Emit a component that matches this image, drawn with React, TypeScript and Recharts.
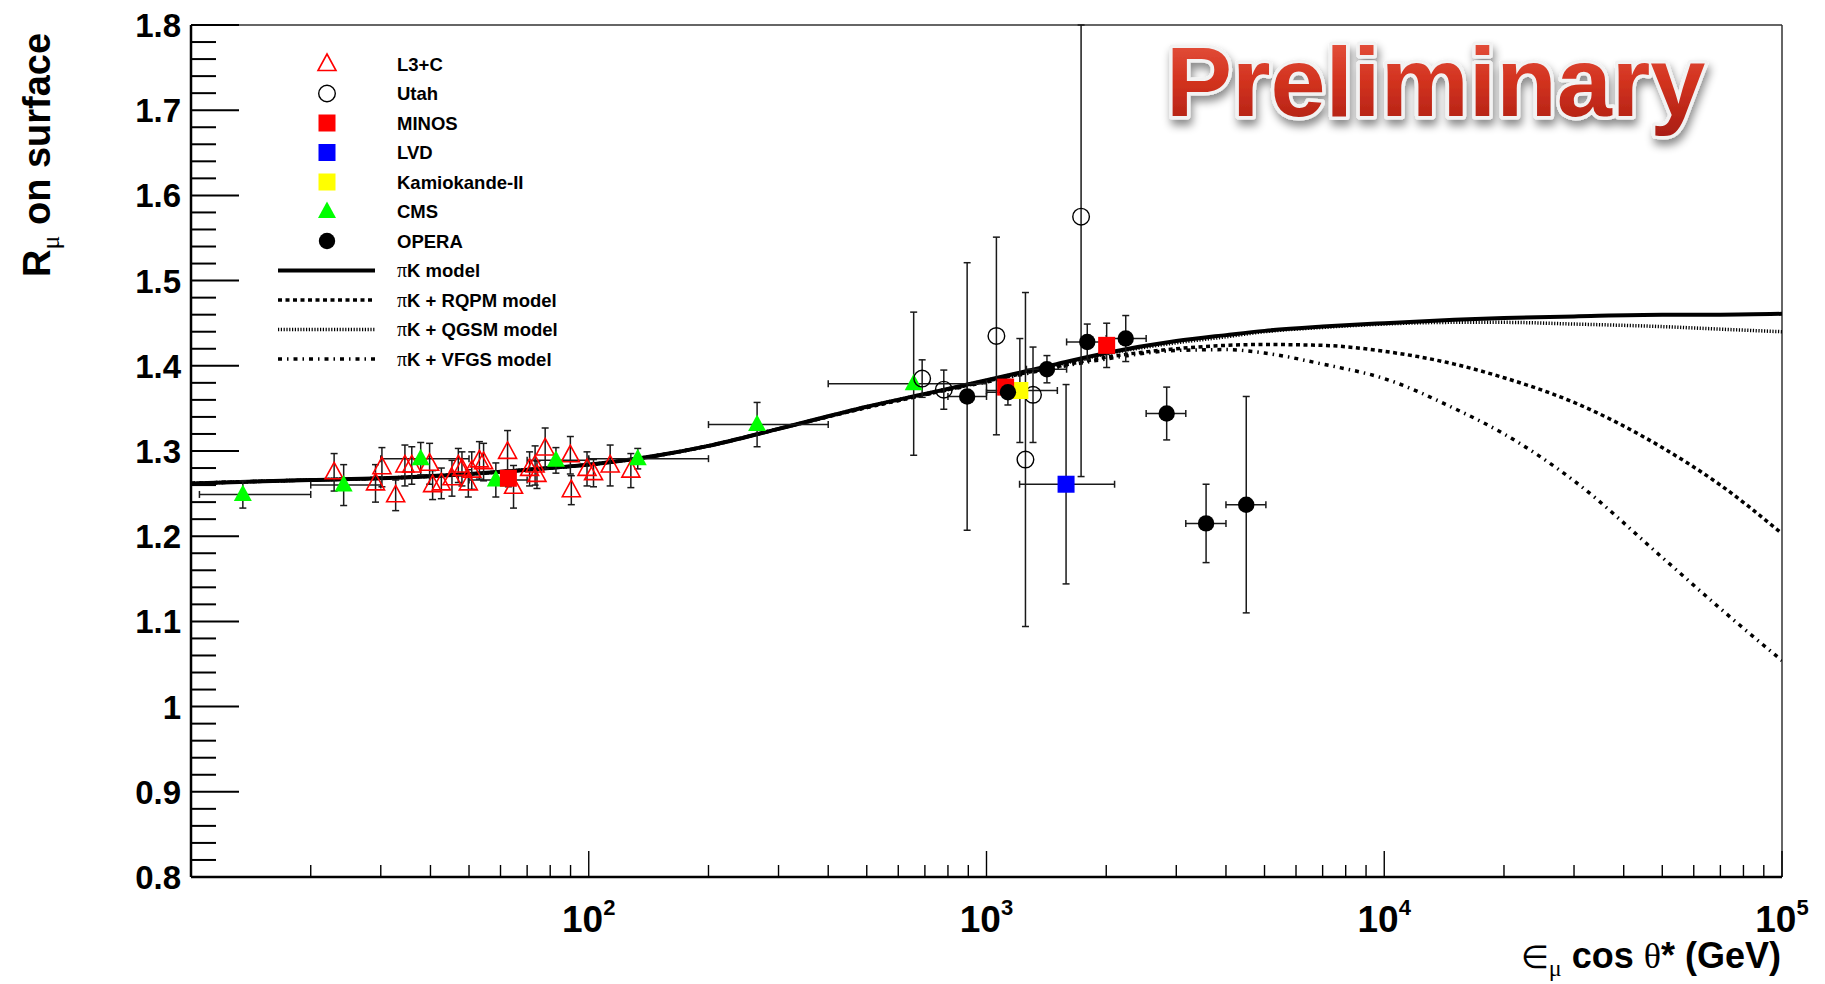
import React from 'react';
import { ComposedChart, XAxis, YAxis, Scatter, Line, ErrorBar, ReferenceLine } from 'recharts';

// ---- data ----
// L3+C
const L3C_E = [22.9, 29.1, 30.2, 32.7, 34.5, 35.9, 39.8, 40.5, 42.6, 45.3, 47.0, 48.0, 49.8, 50.8, 53.1, 54.4, 62.5, 64.7, 71.0, 73.3, 74.1, 77.7, 89.9, 90.4, 99.0, 102.8, 113.2, 127.6];
const L3C_R = [1.275, 1.262, 1.281, 1.248, 1.283, 1.283, 1.285, 1.26, 1.262, 1.268, 1.283, 1.279, 1.262, 1.277, 1.289, 1.287, 1.299, 1.258, 1.279, 1.283, 1.272, 1.303, 1.295, 1.254, 1.279, 1.274, 1.283, 1.277];
const L3C_ERR = [0.022, 0.022, 0.023, 0.018, 0.024, 0.022, 0.024, 0.017, 0.018, 0.021, 0.02, 0.02, 0.016, 0.022, 0.022, 0.022, 0.025, 0.025, 0.02, 0.023, 0.016, 0.024, 0.022, 0.017, 0.02, 0.016, 0.024, 0.02];

// Utah (last point's upper bar is cut by the frame at 1.8)
const UTAH_E = [689, 781, 1059, 1253, 1309, 1729];
const UTAH_R = [1.385, 1.372, 1.435, 1.29, 1.366, 1.575];
const UTAH_ERR = [0.022, 0.023, 0.116, 0.196, 0.056, 0.305];
const UTAH_ERR_UP = [0.022, 0.023, 0.116, 0.196, 0.056, 0.225];

// MINOS
const MINOS_E = [62.8, 1117, 2005];
const MINOS_R = [1.268, 1.375, 1.424];
const MINOS_ERR = [0.01, 0.008, 0.026];

// LVD
const LVD_E = [1585];
const LVD_R = [1.261];
const LVD_ERR = [0.117];
const LVD_LO = [1211];
const LVD_HI = [2099];

// Kamiokande-II
const KAM_E = [1213];
const KAM_R = [1.371];
const KAM_ERR = [0.061];
const KAM_LO = [1000];
const KAM_HI = [1507];

// CMS
const CMS_E = [13.5, 24.2, 37.8, 58.4, 82.7, 132.8, 265, 656];
const CMS_R = [1.249, 1.26, 1.291, 1.266, 1.289, 1.291, 1.331, 1.379];
const CMS_ERR = [0.016, 0.024, 0.019, 0.02, 0.015, 0.012, 0.026, 0.084];
const CMS_LO = [10.5, 20, 30, 50, 70, 100, 200, 400];
const CMS_HI = [20, 30, 50, 70, 100, 200, 400, 1000];

// OPERA
const OPERA_E = [894, 1132, 1419, 1792, 2239, 2838, 3565, 4498];
const OPERA_R = [1.364, 1.369, 1.396, 1.428, 1.432, 1.344, 1.215, 1.237];
const OPERA_ERR = [0.157, 0.015, 0.016, 0.021, 0.027, 0.031, 0.046, 0.127];
const OPERA_LO = [800, 1000, 1260, 1590, 2000, 2520, 3170, 4000];
const OPERA_HI = [1000, 1260, 1590, 2000, 2520, 3170, 4000, 5040];

// model curves
const MODEL_E = [10, 20, 30, 50, 70, 100, 150, 200, 300, 500, 700, 1000, 1500, 2000, 3000, 4000, 5000, 7000, 10000, 15000, 20000, 30000, 50000, 70000, 100000];
const PIK_R = [1.262, 1.266, 1.268, 1.273, 1.278, 1.284, 1.295, 1.306, 1.326, 1.352, 1.367, 1.383, 1.402, 1.415, 1.429, 1.436, 1.441, 1.446, 1.45, 1.454, 1.456, 1.458, 1.46, 1.46, 1.461];
const RQPM_R = [1.262, 1.266, 1.268, 1.273, 1.278, 1.284, 1.295, 1.306, 1.326, 1.351, 1.366, 1.382, 1.399, 1.41, 1.42, 1.424, 1.425, 1.424, 1.417, 1.402, 1.386, 1.357, 1.304, 1.26, 1.203];
const QGSM_R = [1.262, 1.266, 1.268, 1.273, 1.278, 1.284, 1.295, 1.306, 1.326, 1.352, 1.367, 1.383, 1.401, 1.414, 1.427, 1.434, 1.44, 1.445, 1.449, 1.451, 1.451, 1.449, 1.446, 1.443, 1.44];
const VFGS_R = [1.262, 1.266, 1.268, 1.273, 1.278, 1.284, 1.295, 1.306, 1.326, 1.351, 1.366, 1.381, 1.398, 1.408, 1.418, 1.419, 1.415, 1.402, 1.385, 1.35, 1.32, 1.265, 1.175, 1.115, 1.054];

// axis ticks
const X_MAJOR = [100, 1000, 10000, 100000];
const X_TICKS = [10, 100, 1000, 10000].flatMap((d) => [2, 3, 4, 5, 6, 7, 8, 9, 10].map((k) => k * d));
const Y_MAJOR = [0.8, 0.9, 1.0, 1.1, 1.2, 1.3, 1.4, 1.5, 1.6, 1.7, 1.8];
const Y_TICKS = Y_MAJOR.flatMap((v, i) =>
  i === Y_MAJOR.length - 1 ? [v] : [0, 1, 2, 3, 4].map((k) => +(v + k * 0.02).toFixed(2))
);

const pts = (e: number[], r: number[], err: number[], lo?: number[], hi?: number[], errUp?: number[]) =>
  e.map((x, i) => ({
    x,
    y: r[i],
    ey: errUp ? [err[i], errUp[i]] : err[i],
    ex: lo && hi ? [x - lo[i], hi[i] - x] : 0,
  }));

const curve = (r: number[]) => MODEL_E.map((x, i) => ({ x, y: r[i] }));

const FONT = '"Liberation Sans", Arial, sans-serif';
const NARROW = '"Liberation Sans Narrow", "Liberation Sans", Arial, sans-serif';
const SERIF = '"Liberation Serif", "DejaVu Serif", serif';

// marker shapes
const OpenTri = ({ cx, cy }: any) => (
  <path d={`M${cx} ${cy - 10}L${cx + 9} ${cy + 6.5}L${cx - 9} ${cy + 6.5}Z`} fill="none" stroke="#ff0000" strokeWidth={1.6} />
);
const FullTri = ({ cx, cy }: any) => (
  <path d={`M${cx} ${cy - 10}L${cx + 9} ${cy + 6.5}L${cx - 9} ${cy + 6.5}Z`} fill="#00ff00" />
);
const OpenCircle = ({ cx, cy }: any) => <circle cx={cx} cy={cy} r={8.3} fill="none" stroke="#000" strokeWidth={1.4} />;
const FullCircle = ({ cx, cy }: any) => <circle cx={cx} cy={cy} r={8.2} fill="#000" />;
const square = (color: string) => ({ cx, cy }: any) => (
  <rect x={cx - 8.5} y={cy - 8.5} width={17} height={17} fill={color} />
);

const XTick = ({ x, y, payload }: any) => {
  const v = payload.value;
  const major = X_MAJOR.includes(v);
  return (
    <g>
      <line x1={x} x2={x} y1={y} y2={y - (major ? 26 : 12)} stroke="#000" strokeWidth={1.4} />
      {major && (
        <text x={x} y={y + 55} textAnchor="middle" fontFamily={NARROW} fontWeight="bold" fontSize={37} fill="#000">
          10
          <tspan dy={-17} fontSize={22}>
            {Math.round(Math.log10(v))}
          </tspan>
        </text>
      )}
    </g>
  );
};

const YTick = ({ x, y, payload }: any) => {
  const v = payload.value;
  const major = Math.abs(v * 10 - Math.round(v * 10)) < 1e-6;
  return (
    <g>
      <line x1={x} x2={x + (major ? 48 : 25)} y1={y} y2={y} stroke="#000" strokeWidth={2} />
      {major && (
        <text x={x - 10} y={y + 12} textAnchor="end" fontFamily={FONT} fontWeight="bold" fontSize={33} fill="#000">
          {Math.abs(v - 1) < 1e-6 ? '1' : v.toFixed(1)}
        </text>
      )}
    </g>
  );
};

const LEG_MARKERS = ['L3+C', 'Utah', 'MINOS', 'LVD', 'Kamiokande-II', 'CMS', 'OPERA'];
const LEG_LINES = ['πK model', 'πK + RQPM model', 'πK + QGSM model', 'πK + VFGS model'];

function LegendBox() {
  const mx = 327;
  const row = (i: number) => 64 + i * 29.5;
  const marks = [
    <OpenTri cx={mx} cy={row(0)} />,
    <OpenCircle cx={mx} cy={row(1)} />,
    square('#ff0000')({ cx: mx, cy: row(2) }),
    square('#0000ff')({ cx: mx, cy: row(3) }),
    square('#ffff00')({ cx: mx, cy: row(4) }),
    <FullTri cx={mx} cy={row(5)} />,
    <FullCircle cx={mx} cy={row(6)} />,
  ];
  const styles = [
    { w: 4, d: undefined },
    { w: 3.5, d: '4 3.5' },
    { w: 3.5, d: '1.2 1.6' },
    { w: 3.5, d: '4 5 1.5 5' },
  ];
  const label = (t: string, y: number) => {
    const hasPi = t.startsWith('π');
    return (
      <text x={397} y={y + 6.5} fontFamily={FONT} fontWeight="bold" fontSize={18.5} fill="#000">
        {hasPi ? (
          <>
            <tspan fontFamily={SERIF} fontWeight="normal" fontSize={20}>π</tspan>
            {t.slice(1)}
          </>
        ) : (
          t
        )}
      </text>
    );
  };
  return (
    <g>
      {LEG_MARKERS.map((t, i) => (
        <g key={t}>
          {marks[i]}
          {label(t, row(i))}
        </g>
      ))}
      {LEG_LINES.map((t, j) => {
        const y = row(7 + j);
        return (
          <g key={t}>
            <line x1={278} x2={375} y1={y} y2={y} stroke="#000" strokeWidth={styles[j].w} strokeDasharray={styles[j].d} />
            {label(t, y)}
          </g>
        );
      })}
    </g>
  );
}

const errStyle = { stroke: '#1a1a1a', strokeWidth: 1.5, width: 3.5 };

export default function App() {
  return (
    <div style={{ position: 'absolute', left: 0, top: 0, width: 1825, height: 984, background: '#fff' }}>
      <ComposedChart width={1825} height={984} margin={{ top: 25, right: 43, bottom: 0, left: 0 }}>
        <defs>
          <linearGradient id="prelimFill" x1="0" y1="0" x2="0" y2="1">
            <stop offset="0" stopColor="#ea5a45" />
            <stop offset="0.5" stopColor="#d2321f" />
            <stop offset="1" stopColor="#a91d12" />
          </linearGradient>
          <filter id="prelimShadow" x="-10%" y="-40%" width="130%" height="200%">
            <feDropShadow dx="2" dy="6" stdDeviation="4" floodColor="#000" floodOpacity="0.45" />
          </filter>
        </defs>
        <XAxis
          dataKey="x"
          type="number"
          scale="log"
          domain={[10, 100000]}
          allowDataOverflow
          ticks={X_TICKS}
          interval={0}
          height={107}
          tickSize={0}
          tickMargin={0}
          tickLine={false}
          axisLine={{ stroke: '#000', strokeWidth: 2.5 }}
          tick={<XTick />}
        />
        <YAxis
          dataKey="y"
          type="number"
          domain={[0.8, 1.8]}
          allowDataOverflow
          ticks={Y_TICKS}
          interval={0}
          width={191}
          tickSize={0}
          tickMargin={0}
          tickLine={false}
          axisLine={{ stroke: '#000', strokeWidth: 2.5 }}
          tick={<YTick />}
        />
        <ReferenceLine y={1.8} stroke="#333" strokeWidth={1.5} />
        <ReferenceLine x={100000} stroke="#333" strokeWidth={1.5} />

        <Line data={curve(QGSM_R)} dataKey="y" type="monotone" dot={false} stroke="#000" strokeWidth={3.5} strokeDasharray="1.2 1.6" isAnimationActive={false} />
        <Line data={curve(RQPM_R)} dataKey="y" type="monotone" dot={false} stroke="#000" strokeWidth={3.5} strokeDasharray="4 3.5" isAnimationActive={false} />
        <Line data={curve(VFGS_R)} dataKey="y" type="monotone" dot={false} stroke="#000" strokeWidth={3.5} strokeDasharray="4 5 1.5 5" isAnimationActive={false} />
        <Line data={curve(PIK_R)} dataKey="y" type="monotone" dot={false} stroke="#000" strokeWidth={4} isAnimationActive={false} />

        <Scatter data={pts(L3C_E, L3C_R, L3C_ERR)} shape={OpenTri} isAnimationActive={false}>
          <ErrorBar dataKey="ey" direction="y" {...errStyle} isAnimationActive={false} />
        </Scatter>
        <Scatter data={pts(CMS_E, CMS_R, CMS_ERR, CMS_LO, CMS_HI)} shape={FullTri} isAnimationActive={false}>
          <ErrorBar dataKey="ey" direction="y" {...errStyle} isAnimationActive={false} />
          <ErrorBar dataKey="ex" direction="x" {...errStyle} isAnimationActive={false} />
        </Scatter>
        <Scatter data={pts(UTAH_E, UTAH_R, UTAH_ERR, undefined, undefined, UTAH_ERR_UP)} shape={OpenCircle} isAnimationActive={false}>
          <ErrorBar dataKey="ey" direction="y" {...errStyle} isAnimationActive={false} />
        </Scatter>
        <Scatter data={pts(LVD_E, LVD_R, LVD_ERR, LVD_LO, LVD_HI)} shape={square('#0000ff')} isAnimationActive={false}>
          <ErrorBar dataKey="ey" direction="y" {...errStyle} isAnimationActive={false} />
          <ErrorBar dataKey="ex" direction="x" {...errStyle} isAnimationActive={false} />
        </Scatter>
        <Scatter data={pts(KAM_E, KAM_R, KAM_ERR, KAM_LO, KAM_HI)} shape={square('#ffff00')} isAnimationActive={false}>
          <ErrorBar dataKey="ey" direction="y" {...errStyle} isAnimationActive={false} />
          <ErrorBar dataKey="ex" direction="x" {...errStyle} isAnimationActive={false} />
        </Scatter>
        <Scatter data={pts(MINOS_E, MINOS_R, MINOS_ERR)} shape={square('#ff0000')} isAnimationActive={false}>
          <ErrorBar dataKey="ey" direction="y" {...errStyle} isAnimationActive={false} />
        </Scatter>
        <Scatter data={pts(OPERA_E, OPERA_R, OPERA_ERR, OPERA_LO, OPERA_HI)} shape={FullCircle} isAnimationActive={false}>
          <ErrorBar dataKey="ey" direction="y" {...errStyle} isAnimationActive={false} />
          <ErrorBar dataKey="ex" direction="x" {...errStyle} isAnimationActive={false} />
        </Scatter>

        <LegendBox />

        <text
          x={1166}
          y={116}
          fontFamily={FONT}
          fontWeight="bold"
          fontSize={99}
          fill="url(#prelimFill)"
          stroke="#f2f2f2"
          strokeWidth={7}
          strokeLinejoin="round"
          paintOrder="stroke"
          filter="url(#prelimShadow)"
        >
          Preliminary
        </text>

        <text transform="translate(50,277) rotate(-90)" fontFamily={FONT} fontWeight="bold" fontSize={38} fill="#000">
          R
          <tspan fontFamily={SERIF} fontWeight="normal" fontSize={26} dy={9}>μ</tspan>
          <tspan dy={-9}> on surface</tspan>
        </text>

        <text x={1781} y={968} textAnchor="end" fontFamily={FONT} fontWeight="bold" fontSize={36} fill="#000">
          <tspan fontFamily='"DejaVu Sans", sans-serif' fontWeight="normal" fontSize={32}>∈</tspan>
          <tspan fontFamily={SERIF} fontWeight="normal" fontSize={24} dy={8}>μ</tspan>
          <tspan dy={-8}> cos </tspan>
          <tspan fontFamily={SERIF} fontWeight="normal">θ</tspan>
          <tspan>* (GeV)</tspan>
        </text>
      </ComposedChart>
    </div>
  );
}
